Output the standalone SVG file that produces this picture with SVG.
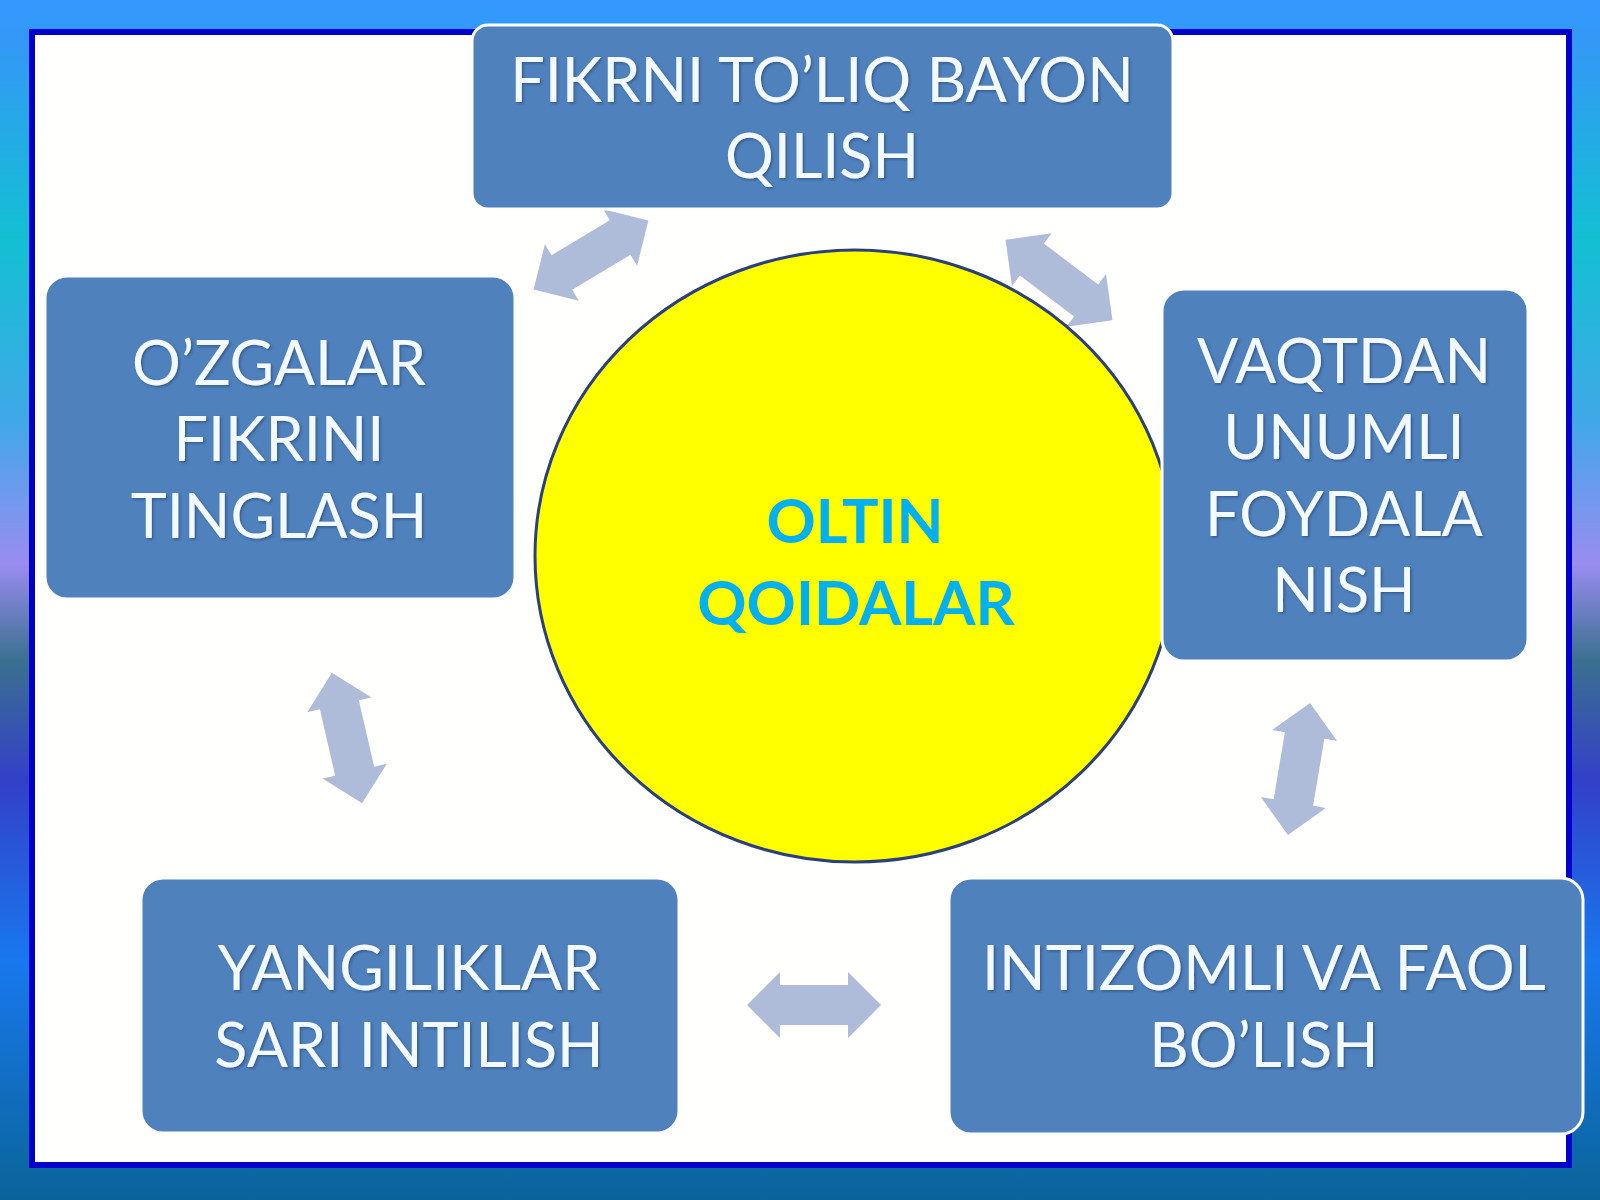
<svg xmlns="http://www.w3.org/2000/svg" width="1600" height="1200" viewBox="0 0 1600 1200">
  <defs>
    <linearGradient id="bg" x1="0" y1="0" x2="0" y2="1">
      <stop offset="0" stop-color="#3399FF"/>
      <stop offset="0.04" stop-color="#3399F5"/>
      <stop offset="0.2" stop-color="#12C0D2"/>
      <stop offset="0.35" stop-color="#40A8E8"/>
      <stop offset="0.47" stop-color="#9A8CF0"/>
      <stop offset="0.55" stop-color="#3B7090"/>
      <stop offset="0.65" stop-color="#3340C8"/>
      <stop offset="0.8" stop-color="#1878EE"/>
      <stop offset="1" stop-color="#0A6498"/>
    </linearGradient>
    <filter id="ts" x="-10%" y="-20%" width="120%" height="140%">
      <feDropShadow dx="1.5" dy="1.5" stdDeviation="1" flood-color="#1F3A66" flood-opacity="0.55"/>
    </filter>
    <path id="dbl" d="M-67,0 L-34,-33 L-34,-20 L34,-20 L34,-33 L67,0 L34,33 L34,20 L-34,20 L-34,33 Z"/>
  </defs>
  <style>
    .box { fill: #4F81BD; stroke: #FFFFFF; stroke-width: 3; }
    .lbl { font-family: Lato, "Liberation Sans", sans-serif; font-size: 61px; fill: #F2FAFF; text-anchor: middle; }
    .ctr { font-family: Lato, "Liberation Sans", sans-serif; font-weight: bold; font-size: 61px; fill: #00B0F0; text-anchor: middle; }
    .arr { fill: #AEBCDA; }
  </style>

  <rect x="0" y="0" width="1600" height="1200" fill="url(#bg)"/>
  <rect x="32" y="32" width="1537" height="1133" fill="#FFFFFD" stroke="#0000CC" stroke-width="6"/>

  <g id="connectors">
    <use href="#dbl" class="arr" transform="translate(591,255) rotate(-31)"/>
    <use href="#dbl" class="arr" transform="translate(1059,280) rotate(37)"/>
    <use href="#dbl" class="arr" transform="translate(347,738) rotate(77)"/>
    <use href="#dbl" class="arr" transform="translate(1299,769) rotate(99.5)"/>
    <use href="#dbl" class="arr" transform="translate(814,1005)"/>
  </g>

  <g id="center">
    <ellipse cx="855" cy="556" rx="320" ry="306" fill="#FFFF00" stroke="#2B3F7A" stroke-width="3"/>
    <text class="ctr" x="855" y="543">OLTIN</text>
    <text class="ctr" x="856" y="625">QOIDALAR</text>
  </g>

  <g id="node-top">
    <rect class="box" x="472" y="25" width="701" height="184" rx="16"/>
    <text class="lbl" filter="url(#ts)" x="822" y="102">FIKRNI TO’LIQ BAYON</text>
    <text class="lbl" filter="url(#ts)" x="822" y="178">QILISH</text>
  </g>

  <g id="node-left">
    <rect class="box" x="45" y="276" width="470" height="323" rx="22"/>
    <text class="lbl" filter="url(#ts)" x="279" y="385">O’ZGALAR</text>
    <text class="lbl" filter="url(#ts)" x="279" y="461">FIKRINI</text>
    <text class="lbl" filter="url(#ts)" x="279" y="538">TINGLASH</text>
  </g>

  <g id="node-right">
    <rect class="box" x="1162" y="289" width="366" height="372" rx="22"/>
    <text class="lbl" filter="url(#ts)" x="1344" y="383">VAQTDAN</text>
    <text class="lbl" filter="url(#ts)" x="1344" y="459">UNUMLI</text>
    <text class="lbl" filter="url(#ts)" x="1344" y="536">FOYDALA</text>
    <text class="lbl" filter="url(#ts)" x="1344" y="612">NISH</text>
  </g>

  <g id="node-bottom-left">
    <rect class="box" x="141" y="878" width="538" height="255" rx="22"/>
    <text class="lbl" filter="url(#ts)" x="409" y="990">YANGILIKLAR</text>
    <text class="lbl" filter="url(#ts)" x="409" y="1067">SARI INTILISH</text>
  </g>

  <g id="node-bottom-right">
    <rect class="box" x="949" y="878" width="634" height="256" rx="22"/>
    <text class="lbl" filter="url(#ts)" x="1264" y="990">INTIZOMLI VA FAOL</text>
    <text class="lbl" filter="url(#ts)" x="1264" y="1067">BO’LISH</text>
  </g>
</svg>
